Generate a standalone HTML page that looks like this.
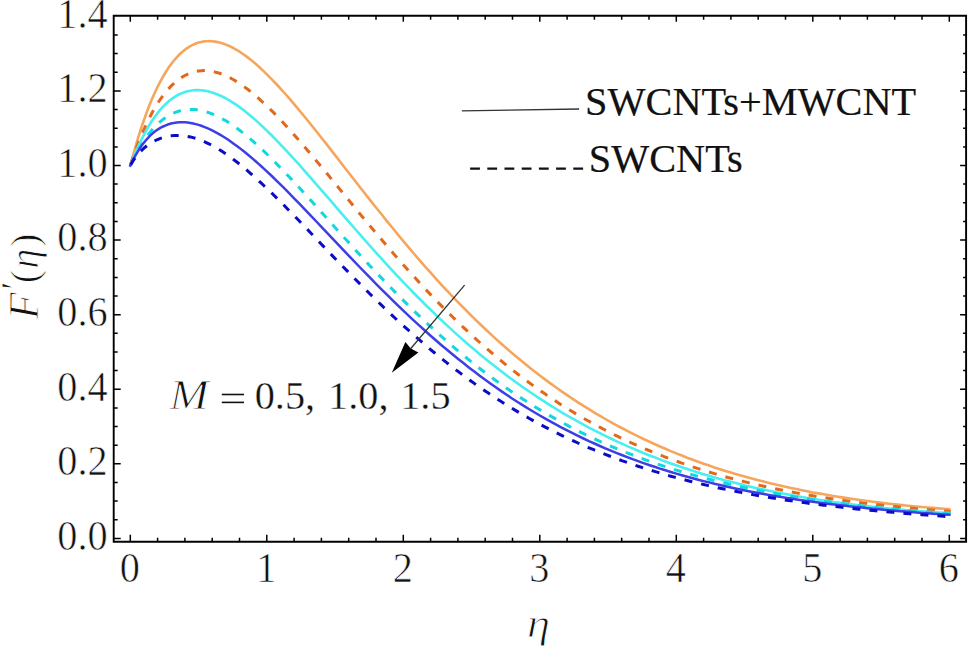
<!DOCTYPE html>
<html><head><meta charset="utf-8"><style>
html,body{margin:0;padding:0;background:#fff;}
svg{display:block;}
text{font-family:"Liberation Serif",serif;font-size:40.3px;fill:#111;}
.tl{stroke:#fff;stroke-width:0.6px;}
.bd{stroke:#111;stroke-width:0.2px;}
.ml{stroke:#fff;stroke-width:0.35px;}
.it{font-style:italic;}
.yl text{fill:#111;stroke:#fff;stroke-width:0.9px;}
</style></head><body>
<svg width="968" height="647" viewBox="0 0 968 647">
<rect width="968" height="647" fill="#fff"/>
<path d="M130.3,165.5 133.0,155.3 135.8,145.6 138.5,136.6 141.2,128.0 144.0,120.0 146.7,112.4 149.4,105.3 152.1,98.7 154.9,92.5 157.6,86.8 160.3,81.5 163.1,76.5 165.8,72.0 168.5,67.8 171.2,64.0 174.0,60.5 176.7,57.4 179.4,54.5 182.2,52.0 184.9,49.8 187.6,47.8 190.4,46.1 193.1,44.7 195.8,43.5 198.6,42.6 201.3,41.9 204.0,41.4 206.7,41.2 209.5,41.1 212.2,41.2 214.9,41.6 217.7,42.1 220.4,42.7 223.1,43.6 225.9,44.6 228.6,45.7 231.3,47.0 234.0,48.4 236.8,50.0 239.5,51.7 242.2,53.5 245.0,55.4 247.7,57.4 250.4,59.6 253.2,61.8 255.9,64.1 258.6,66.5 261.3,69.0 264.1,71.6 266.8,74.3 272.3,79.8 277.7,85.5 283.2,91.5 288.6,97.7 294.1,104.1 299.6,110.6 305.0,117.2 310.5,124.0 315.9,130.8 321.4,137.7 326.9,144.6 332.3,151.6 337.8,158.6 343.2,165.7 348.7,172.7 354.2,179.7 359.6,186.7 365.1,193.7 370.5,200.6 376.0,207.5 381.5,214.3 386.9,221.1 392.4,227.8 397.8,234.5 403.3,241.1 408.8,247.6 414.2,254.0 419.7,260.3 425.1,266.6 430.6,272.7 436.1,278.8 441.5,284.8 447.0,290.6 452.4,296.4 457.9,302.1 463.4,307.7 468.8,313.2 474.3,318.6 479.7,323.8 485.2,329.0 490.7,334.1 496.1,339.1 501.6,344.0 507.0,348.8 512.5,353.5 518.0,358.1 523.4,362.6 528.9,367.0 534.3,371.3 539.8,375.5 545.3,379.6 550.7,383.6 556.2,387.5 561.6,391.4 567.1,395.1 572.6,398.8 578.0,402.4 583.5,405.8 588.9,409.2 594.4,412.6 599.9,415.8 605.3,419.0 610.8,422.1 616.2,425.1 621.7,428.0 627.2,430.8 632.6,433.6 638.1,436.3 643.5,439.0 649.0,441.5 654.5,444.0 659.9,446.5 665.4,448.8 670.8,451.1 676.3,453.4 681.8,455.5 687.2,457.7 692.7,459.7 698.1,461.7 703.6,463.7 709.1,465.5 714.5,467.4 720.0,469.2 725.4,470.9 730.9,472.6 736.4,474.2 741.8,475.8 747.3,477.3 752.7,478.8 758.2,480.2 763.7,481.6 769.1,483.0 774.6,484.3 780.0,485.6 785.5,486.8 791.0,488.0 796.4,489.1 801.9,490.2 807.3,491.3 812.8,492.4 818.3,493.4 823.7,494.3 829.2,495.3 834.6,496.2 840.1,497.1 845.6,497.9 851.0,498.7 856.5,499.5 861.9,500.3 867.4,501.0 872.9,501.7 878.3,502.4 883.8,503.1 889.2,503.7 894.7,504.3 900.2,504.9 905.6,505.5 911.1,506.0 916.5,506.5 922.0,507.0 927.5,507.5 932.9,507.9 938.4,508.4 943.8,508.8 949.3,509.2" stroke="#F6A65C" stroke-width="2.6" stroke-linecap="square" fill="none"/>
<path d="M130.3,165.5 133.0,157.4 135.8,149.7 138.5,142.5 141.2,135.8 144.0,129.4 146.7,123.5 149.4,117.9 152.1,112.7 154.9,107.9 157.6,103.4 160.3,99.3 163.1,95.5 165.8,92.0 168.5,88.8 171.2,85.9 174.0,83.3 176.7,81.0 179.4,78.9 182.2,77.1 184.9,75.5 187.6,74.2 190.4,73.0 193.1,72.2 195.8,71.5 198.6,71.0 201.3,70.7 204.0,70.6 206.7,70.7 209.5,71.0 212.2,71.4 214.9,72.0 217.7,72.7 220.4,73.6 223.1,74.6 225.9,75.8 228.6,77.1 231.3,78.5 234.0,80.0 236.8,81.7 239.5,83.5 242.2,85.3 245.0,87.3 247.7,89.3 250.4,91.5 253.2,93.7 255.9,96.0 258.6,98.4 261.3,100.8 264.1,103.4 266.8,106.0 272.3,111.3 277.7,116.9 283.2,122.7 288.6,128.7 294.1,134.8 299.6,141.0 305.0,147.3 310.5,153.8 315.9,160.3 321.4,166.9 326.9,173.5 332.3,180.1 337.8,186.8 343.2,193.4 348.7,200.1 354.2,206.8 359.6,213.4 365.1,220.0 370.5,226.6 376.0,233.1 381.5,239.5 386.9,246.0 392.4,252.3 397.8,258.6 403.3,264.8 408.8,270.9 414.2,276.9 419.7,282.9 425.1,288.8 430.6,294.6 436.1,300.3 441.5,305.9 447.0,311.4 452.4,316.8 457.9,322.1 463.4,327.4 468.8,332.5 474.3,337.5 479.7,342.5 485.2,347.3 490.7,352.0 496.1,356.7 501.6,361.2 507.0,365.7 512.5,370.0 518.0,374.3 523.4,378.4 528.9,382.5 534.3,386.5 539.8,390.3 545.3,394.1 550.7,397.8 556.2,401.4 561.6,405.0 567.1,408.4 572.6,411.8 578.0,415.0 583.5,418.2 588.9,421.3 594.4,424.3 599.9,427.3 605.3,430.1 610.8,432.9 616.2,435.7 621.7,438.3 627.2,440.9 632.6,443.4 638.1,445.8 643.5,448.2 649.0,450.5 654.5,452.8 659.9,454.9 665.4,457.1 670.8,459.1 676.3,461.1 681.8,463.1 687.2,464.9 692.7,466.8 698.1,468.6 703.6,470.3 709.1,472.0 714.5,473.6 720.0,475.2 725.4,476.7 730.9,478.2 736.4,479.6 741.8,481.0 747.3,482.4 752.7,483.7 758.2,485.0 763.7,486.2 769.1,487.4 774.6,488.6 780.0,489.7 785.5,490.8 791.0,491.9 796.4,492.9 801.9,493.9 807.3,494.8 812.8,495.8 818.3,496.7 823.7,497.5 829.2,498.4 834.6,499.2 840.1,500.0 845.6,500.7 851.0,501.5 856.5,502.2 861.9,502.9 867.4,503.6 872.9,504.2 878.3,504.8 883.8,505.4 889.2,506.0 894.7,506.6 900.2,507.1 905.6,507.7 911.1,508.2 916.5,508.7 922.0,509.1 927.5,509.6 932.9,510.0 938.4,510.5 943.8,510.9 949.3,511.3" stroke="#E4681A" stroke-width="3.0" stroke-linecap="square" fill="none" stroke-dasharray="5,12.05" stroke-dashoffset="-2.4"/>
<path d="M130.3,165.5 133.0,158.5 135.8,151.9 138.5,145.7 141.2,140.0 144.0,134.6 146.7,129.6 149.4,124.9 152.1,120.6 154.9,116.7 157.6,113.1 160.3,109.7 163.1,106.7 165.8,104.0 168.5,101.5 171.2,99.3 174.0,97.4 176.7,95.7 179.4,94.3 182.2,93.1 184.9,92.1 187.6,91.3 190.4,90.7 193.1,90.3 195.8,90.1 198.6,90.1 201.3,90.3 204.0,90.6 206.7,91.1 209.5,91.7 212.2,92.5 214.9,93.5 217.7,94.5 220.4,95.7 223.1,97.0 225.9,98.4 228.6,100.0 231.3,101.6 234.0,103.4 236.8,105.2 239.5,107.1 242.2,109.1 245.0,111.3 247.7,113.4 250.4,115.7 253.2,118.0 255.9,120.4 258.6,122.9 261.3,125.4 264.1,128.0 266.8,130.6 272.3,136.0 277.7,141.6 283.2,147.3 288.6,153.2 294.1,159.1 299.6,165.2 305.0,171.3 310.5,177.6 315.9,183.8 321.4,190.1 326.9,196.4 332.3,202.7 337.8,209.1 343.2,215.4 348.7,221.7 354.2,228.0 359.6,234.2 365.1,240.4 370.5,246.5 376.0,252.6 381.5,258.7 386.9,264.7 392.4,270.6 397.8,276.4 403.3,282.2 408.8,287.9 414.2,293.5 419.7,299.0 425.1,304.5 430.6,309.8 436.1,315.1 441.5,320.3 447.0,325.4 452.4,330.4 457.9,335.4 463.4,340.2 468.8,345.0 474.3,349.6 479.7,354.2 485.2,358.7 490.7,363.0 496.1,367.3 501.6,371.6 507.0,375.7 512.5,379.7 518.0,383.7 523.4,387.5 528.9,391.3 534.3,395.0 539.8,398.6 545.3,402.1 550.7,405.6 556.2,409.0 561.6,412.3 567.1,415.5 572.6,418.6 578.0,421.7 583.5,424.7 588.9,427.6 594.4,430.4 599.9,433.2 605.3,435.9 610.8,438.5 616.2,441.1 621.7,443.6 627.2,446.1 632.6,448.4 638.1,450.7 643.5,453.0 649.0,455.2 654.5,457.3 659.9,459.4 665.4,461.5 670.8,463.4 676.3,465.3 681.8,467.2 687.2,469.0 692.7,470.8 698.1,472.5 703.6,474.2 709.1,475.8 714.5,477.4 720.0,478.9 725.4,480.4 730.9,481.8 736.4,483.2 741.8,484.6 747.3,485.9 752.7,487.2 758.2,488.4 763.7,489.6 769.1,490.8 774.6,491.9 780.0,493.0 785.5,494.1 791.0,495.1 796.4,496.1 801.9,497.0 807.3,498.0 812.8,498.9 818.3,499.7 823.7,500.6 829.2,501.4 834.6,502.2 840.1,502.9 845.6,503.6 851.0,504.3 856.5,505.0 861.9,505.7 867.4,506.3 872.9,506.9 878.3,507.5 883.8,508.0 889.2,508.6 894.7,509.1 900.2,509.6 905.6,510.0 911.1,510.5 916.5,510.9 922.0,511.3 927.5,511.7 932.9,512.1 938.4,512.5 943.8,512.8 949.3,513.1" stroke="#48EEF0" stroke-width="2.6" stroke-linecap="square" fill="none"/>
<path d="M130.3,165.5 133.0,159.8 135.8,154.5 138.5,149.6 141.2,145.0 144.0,140.8 146.7,136.8 149.4,133.2 152.1,129.9 154.9,126.9 157.6,124.1 160.3,121.6 163.1,119.4 165.8,117.4 168.5,115.7 171.2,114.2 174.0,112.9 176.7,111.8 179.4,111.0 182.2,110.3 184.9,109.8 187.6,109.5 190.4,109.4 193.1,109.4 195.8,109.6 198.6,110.0 201.3,110.5 204.0,111.2 206.7,112.0 209.5,112.9 212.2,113.9 214.9,115.1 217.7,116.4 220.4,117.8 223.1,119.3 225.9,120.8 228.6,122.5 231.3,124.3 234.0,126.2 236.8,128.1 239.5,130.2 242.2,132.3 245.0,134.4 247.7,136.7 250.4,139.0 253.2,141.4 255.9,143.8 258.6,146.3 261.3,148.8 264.1,151.4 266.8,154.0 272.3,159.4 277.7,164.9 283.2,170.5 288.6,176.3 294.1,182.1 299.6,188.0 305.0,194.0 310.5,200.0 315.9,206.1 321.4,212.2 326.9,218.3 332.3,224.4 337.8,230.5 343.2,236.5 348.7,242.6 354.2,248.6 359.6,254.6 365.1,260.5 370.5,266.4 376.0,272.2 381.5,278.0 386.9,283.7 392.4,289.3 397.8,294.9 403.3,300.4 408.8,305.8 414.2,311.1 419.7,316.4 425.1,321.6 430.6,326.6 436.1,331.6 441.5,336.5 447.0,341.4 452.4,346.1 457.9,350.7 463.4,355.3 468.8,359.8 474.3,364.1 479.7,368.4 485.2,372.6 490.7,376.7 496.1,380.7 501.6,384.6 507.0,388.5 512.5,392.2 518.0,395.9 523.4,399.5 528.9,403.0 534.3,406.4 539.8,409.7 545.3,413.0 550.7,416.1 556.2,419.2 561.6,422.3 567.1,425.2 572.6,428.1 578.0,430.9 583.5,433.6 588.9,436.2 594.4,438.8 599.9,441.3 605.3,443.8 610.8,446.1 616.2,448.4 621.7,450.7 627.2,452.9 632.6,455.0 638.1,457.1 643.5,459.1 649.0,461.1 654.5,463.0 659.9,464.8 665.4,466.6 670.8,468.4 676.3,470.1 681.8,471.7 687.2,473.3 692.7,474.9 698.1,476.4 703.6,477.8 709.1,479.3 714.5,480.7 720.0,482.0 725.4,483.3 730.9,484.6 736.4,485.8 741.8,487.0 747.3,488.1 752.7,489.3 758.2,490.4 763.7,491.4 769.1,492.4 774.6,493.4 780.0,494.4 785.5,495.3 791.0,496.3 796.4,497.1 801.9,498.0 807.3,498.8 812.8,499.6 818.3,500.4 823.7,501.2 829.2,501.9 834.6,502.6 840.1,503.3 845.6,504.0 851.0,504.7 856.5,505.3 861.9,505.9 867.4,506.5 872.9,507.1 878.3,507.7 883.8,508.2 889.2,508.8 894.7,509.3 900.2,509.8 905.6,510.3 911.1,510.8 916.5,511.2 922.0,511.7 927.5,512.1 932.9,512.6 938.4,513.0 943.8,513.4 949.3,513.8" stroke="#10D8DE" stroke-width="3.0" stroke-linecap="square" fill="none" stroke-dasharray="5,12.05" stroke-dashoffset="-2.4"/>
<path d="M130.3,165.5 133.0,159.9 135.8,154.9 138.5,150.3 141.2,146.3 144.0,142.6 146.7,139.3 149.4,136.4 152.1,133.9 154.9,131.6 157.6,129.6 160.3,127.9 163.1,126.5 165.8,125.3 168.5,124.3 171.2,123.5 174.0,122.9 176.7,122.5 179.4,122.3 182.2,122.2 184.9,122.3 187.6,122.6 190.4,123.0 193.1,123.5 195.8,124.1 198.6,124.9 201.3,125.8 204.0,126.8 206.7,127.9 209.5,129.1 212.2,130.4 214.9,131.8 217.7,133.3 220.4,134.9 223.1,136.5 225.9,138.2 228.6,140.0 231.3,141.9 234.0,143.9 236.8,145.9 239.5,147.9 242.2,150.1 245.0,152.2 247.7,154.5 250.4,156.7 253.2,159.1 255.9,161.5 258.6,163.9 261.3,166.3 264.1,168.8 266.8,171.4 272.3,176.5 277.7,181.8 283.2,187.2 288.6,192.7 294.1,198.3 299.6,203.9 305.0,209.6 310.5,215.3 315.9,221.0 321.4,226.8 326.9,232.6 332.3,238.4 337.8,244.1 343.2,249.9 348.7,255.6 354.2,261.3 359.6,267.0 365.1,272.6 370.5,278.2 376.0,283.8 381.5,289.3 386.9,294.7 392.4,300.1 397.8,305.4 403.3,310.6 408.8,315.8 414.2,320.9 419.7,325.9 425.1,330.8 430.6,335.7 436.1,340.5 441.5,345.2 447.0,349.8 452.4,354.3 457.9,358.8 463.4,363.1 468.8,367.4 474.3,371.6 479.7,375.7 485.2,379.8 490.7,383.7 496.1,387.6 501.6,391.4 507.0,395.0 512.5,398.7 518.0,402.2 523.4,405.6 528.9,409.0 534.3,412.3 539.8,415.5 545.3,418.6 550.7,421.7 556.2,424.7 561.6,427.6 567.1,430.4 572.6,433.2 578.0,435.9 583.5,438.5 588.9,441.1 594.4,443.5 599.9,446.0 605.3,448.3 610.8,450.6 616.2,452.8 621.7,455.0 627.2,457.1 632.6,459.2 638.1,461.2 643.5,463.1 649.0,465.0 654.5,466.8 659.9,468.6 665.4,470.3 670.8,472.0 676.3,473.6 681.8,475.2 687.2,476.7 692.7,478.2 698.1,479.7 703.6,481.1 709.1,482.4 714.5,483.8 720.0,485.0 725.4,486.3 730.9,487.5 736.4,488.7 741.8,489.8 747.3,490.9 752.7,492.0 758.2,493.0 763.7,494.0 769.1,495.0 774.6,495.9 780.0,496.8 785.5,497.7 791.0,498.6 796.4,499.4 801.9,500.2 807.3,501.0 812.8,501.7 818.3,502.5 823.7,503.2 829.2,503.9 834.6,504.6 840.1,505.2 845.6,505.8 851.0,506.4 856.5,507.0 861.9,507.6 867.4,508.2 872.9,508.7 878.3,509.2 883.8,509.7 889.2,510.2 894.7,510.7 900.2,511.2 905.6,511.6 911.1,512.1 916.5,512.5 922.0,512.9 927.5,513.3 932.9,513.7 938.4,514.1 943.8,514.5 949.3,514.8" stroke="#3E3EE6" stroke-width="2.5" stroke-linecap="square" fill="none"/>
<path d="M130.3,165.5 133.0,160.9 135.8,157.0 138.5,153.6 141.2,150.7 144.0,148.1 146.7,145.9 149.4,144.0 152.1,142.2 154.9,140.8 157.6,139.5 160.3,138.4 163.1,137.5 165.8,136.8 168.5,136.2 171.2,135.8 174.0,135.5 176.7,135.4 179.4,135.4 182.2,135.6 184.9,135.9 187.6,136.4 190.4,136.9 193.1,137.6 195.8,138.4 198.6,139.4 201.3,140.4 204.0,141.5 206.7,142.8 209.5,144.1 212.2,145.5 214.9,147.0 217.7,148.6 220.4,150.3 223.1,152.1 225.9,153.9 228.6,155.8 231.3,157.8 234.0,159.9 236.8,162.0 239.5,164.1 242.2,166.3 245.0,168.6 247.7,170.9 250.4,173.3 253.2,175.7 255.9,178.2 258.6,180.7 261.3,183.2 264.1,185.8 266.8,188.4 272.3,193.6 277.7,199.0 283.2,204.5 288.6,210.1 294.1,215.7 299.6,221.3 305.0,227.0 310.5,232.7 315.9,238.4 321.4,244.2 326.9,249.9 332.3,255.6 337.8,261.3 343.2,266.9 348.7,272.5 354.2,278.1 359.6,283.6 365.1,289.1 370.5,294.5 376.0,299.9 381.5,305.2 386.9,310.4 392.4,315.6 397.8,320.7 403.3,325.7 408.8,330.6 414.2,335.5 419.7,340.2 425.1,344.9 430.6,349.6 436.1,354.1 441.5,358.5 447.0,362.9 452.4,367.2 457.9,371.3 463.4,375.5 468.8,379.5 474.3,383.4 479.7,387.3 485.2,391.0 490.7,394.7 496.1,398.3 501.6,401.8 507.0,405.3 512.5,408.6 518.0,411.9 523.4,415.1 528.9,418.2 534.3,421.2 539.8,424.2 545.3,427.1 550.7,429.9 556.2,432.7 561.6,435.4 567.1,438.0 572.6,440.5 578.0,443.0 583.5,445.4 588.9,447.8 594.4,450.0 599.9,452.3 605.3,454.4 610.8,456.5 616.2,458.6 621.7,460.6 627.2,462.5 632.6,464.4 638.1,466.2 643.5,468.0 649.0,469.7 654.5,471.4 659.9,473.0 665.4,474.6 670.8,476.2 676.3,477.7 681.8,479.1 687.2,480.5 692.7,481.9 698.1,483.2 703.6,484.5 709.1,485.8 714.5,487.0 720.0,488.2 725.4,489.3 730.9,490.5 736.4,491.5 741.8,492.6 747.3,493.6 752.7,494.6 758.2,495.6 763.7,496.5 769.1,497.4 774.6,498.3 780.0,499.2 785.5,500.0 791.0,500.8 796.4,501.6 801.9,502.4 807.3,503.1 812.8,503.8 818.3,504.5 823.7,505.2 829.2,505.9 834.6,506.5 840.1,507.1 845.6,507.8 851.0,508.3 856.5,508.9 861.9,509.5 867.4,510.0 872.9,510.5 878.3,511.1 883.8,511.6 889.2,512.1 894.7,512.5 900.2,513.0 905.6,513.4 911.1,513.9 916.5,514.3 922.0,514.7 927.5,515.1 932.9,515.5 938.4,515.9 943.8,516.3 949.3,516.6" stroke="#0C0CC6" stroke-width="3.0" stroke-linecap="square" fill="none" stroke-dasharray="5,12.05" stroke-dashoffset="-2.4"/>

<path d="M113.7,15.7H966.1V541.7H113.7Z" fill="none" stroke="#000" stroke-width="1.9"/>
<path d="M130.3,541.7v-7M130.3,15.7v6M157.6,541.7v-4M157.6,15.7v4M184.9,541.7v-4M184.9,15.7v4M212.2,541.7v-4M212.2,15.7v4M239.5,541.7v-4M239.5,15.7v4M266.8,541.7v-7M266.8,15.7v6M294.1,541.7v-4M294.1,15.7v4M321.4,541.7v-4M321.4,15.7v4M348.7,541.7v-4M348.7,15.7v4M376.0,541.7v-4M376.0,15.7v4M403.3,541.7v-7M403.3,15.7v6M430.6,541.7v-4M430.6,15.7v4M457.9,541.7v-4M457.9,15.7v4M485.2,541.7v-4M485.2,15.7v4M512.5,541.7v-4M512.5,15.7v4M539.8,541.7v-7M539.8,15.7v6M567.1,541.7v-4M567.1,15.7v4M594.4,541.7v-4M594.4,15.7v4M621.7,541.7v-4M621.7,15.7v4M649.0,541.7v-4M649.0,15.7v4M676.3,541.7v-7M676.3,15.7v6M703.6,541.7v-4M703.6,15.7v4M730.9,541.7v-4M730.9,15.7v4M758.2,541.7v-4M758.2,15.7v4M785.5,541.7v-4M785.5,15.7v4M812.8,541.7v-7M812.8,15.7v6M840.1,541.7v-4M840.1,15.7v4M867.4,541.7v-4M867.4,15.7v4M894.7,541.7v-4M894.7,15.7v4M922.0,541.7v-4M922.0,15.7v4M949.3,541.7v-7M949.3,15.7v6M113.7,538.4h7M966.1,538.4h-6M113.7,519.8h4M966.1,519.8h-3M113.7,501.1h4M966.1,501.1h-3M113.7,482.5h4M966.1,482.5h-3M113.7,463.8h7M966.1,463.8h-6M113.7,445.2h4M966.1,445.2h-3M113.7,426.5h4M966.1,426.5h-3M113.7,407.9h4M966.1,407.9h-3M113.7,389.2h7M966.1,389.2h-6M113.7,370.6h4M966.1,370.6h-3M113.7,351.9h4M966.1,351.9h-3M113.7,333.3h4M966.1,333.3h-3M113.7,314.7h7M966.1,314.7h-6M113.7,296.0h4M966.1,296.0h-3M113.7,277.4h4M966.1,277.4h-3M113.7,258.7h4M966.1,258.7h-3M113.7,240.1h7M966.1,240.1h-6M113.7,221.4h4M966.1,221.4h-3M113.7,202.8h4M966.1,202.8h-3M113.7,184.1h4M966.1,184.1h-3M113.7,165.5h7M966.1,165.5h-6M113.7,146.9h4M966.1,146.9h-3M113.7,128.2h4M966.1,128.2h-3M113.7,109.6h4M966.1,109.6h-3M113.7,90.9h7M966.1,90.9h-6M113.7,72.3h4M966.1,72.3h-3M113.7,53.6h4M966.1,53.6h-3M113.7,35.0h4M966.1,35.0h-3" fill="none" stroke="#000" stroke-width="1.5"/>
<text class="tl" transform="translate(129.7,582) scale(1,1.06)" text-anchor="middle">0</text><text class="tl" transform="translate(266.2,582) scale(1,1.06)" text-anchor="middle">1</text><text class="tl" transform="translate(402.7,582) scale(1,1.06)" text-anchor="middle">2</text><text class="tl" transform="translate(539.2,582) scale(1,1.06)" text-anchor="middle">3</text><text class="tl" transform="translate(675.7,582) scale(1,1.06)" text-anchor="middle">4</text><text class="tl" transform="translate(812.2,582) scale(1,1.06)" text-anchor="middle">5</text><text class="tl" transform="translate(948.7,582) scale(1,1.06)" text-anchor="middle">6</text>
<text class="tl" transform="translate(107.7,549.7) scale(1,1.06)" text-anchor="end">0.0</text><text class="tl" transform="translate(107.7,475.1) scale(1,1.06)" text-anchor="end">0.2</text><text class="tl" transform="translate(107.7,400.5) scale(1,1.06)" text-anchor="end">0.4</text><text class="tl" transform="translate(107.7,326.0) scale(1,1.06)" text-anchor="end">0.6</text><text class="tl" transform="translate(107.7,251.4) scale(1,1.06)" text-anchor="end">0.8</text><text class="tl" transform="translate(107.7,176.8) scale(1,1.06)" text-anchor="end">1.0</text><text class="tl" transform="translate(107.7,102.2) scale(1,1.06)" text-anchor="end">1.2</text><text class="tl" transform="translate(107.7,27.6) scale(1,1.06)" text-anchor="end">1.4</text>
<path d="M461.9,110.9 L579.1,109" stroke="#333" stroke-width="1.4" fill="none"/>
<path d="M470.1,168.7 H583.7" stroke="#111" stroke-width="2.2" fill="none" stroke-dasharray="9.8,7.4"/>
<text class="bd" x="585.1" y="115">SWCNTs+MWCNT</text>
<text class="bd" x="588.8" y="171.5">SWCNTs</text>
<path d="M464.6,285.2 L410.8,348.5" stroke="#333" stroke-width="1.3" fill="none"/>
<path d="M391.8,372.7 L405.4,341.9 L410.8,348.5 L418.4,352.6 Z" fill="#000"/>
<text class="it" style="stroke:#fff;stroke-width:0.9px" transform="translate(169.6,409) scale(1.17,1.03)">M</text>
<rect x="221.8" y="393.7" width="22.2" height="1.6" fill="#111"/>
<rect x="221.8" y="401.6" width="22.2" height="1.6" fill="#111"/>
<text x="254.7" y="409" class="ml">0.5,</text>
<text x="328.1" y="409" class="ml">1.0,</text>
<text x="400.2" y="409" class="ml">1.5</text>
<g class="yl">
<text class="it" transform="translate(37.5,319.5) rotate(-90) scale(1.1,1.03)">F</text>
<text transform="translate(28.3,289.9) rotate(-90)">′</text>
<text transform="translate(37.7,283.2) rotate(-90)">(</text>
<text class="it" transform="translate(37.7,268.8) rotate(-90)">η</text>
<text transform="translate(37.7,247) rotate(-90)">)</text>
</g>
<g class="yl"><text class="it" transform="translate(527,636.7) scale(1.15,1)">η</text></g>
</svg>
</body></html>
